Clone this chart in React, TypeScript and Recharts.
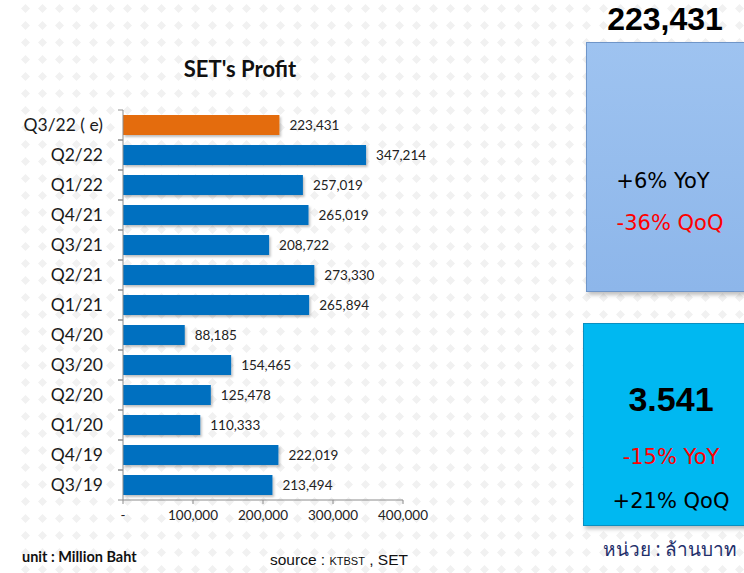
import React from 'react';
import { BarChart, Bar, XAxis, YAxis, Cell, LabelList } from 'recharts';

// quarters, top to bottom as in the chart
const quarters = ['Q3/22 ( e)', 'Q2/22', 'Q1/22', 'Q4/21', 'Q3/21', 'Q2/21', 'Q1/21', 'Q4/20', 'Q3/20', 'Q2/20', 'Q1/20', 'Q4/19', 'Q3/19'];
const profit = [223431, 347214, 257019, 265019, 208722, 273330, 265894, 88185, 154465, 125478, 110333, 222019, 213494];
const estimated = [true, false, false, false, false, false, false, false, false, false, false, false, false];
const xTicks = [0, 100000, 200000, 300000, 400000];

const data = quarters.map((q, i) => ({ quarter: q, profit: profit[i], estimated: estimated[i] }));

const W = 744;
const H = 573;
const MARGIN = { top: 110, right: 341, bottom: 43, left: 0 };
const X_AXIS_H = 30;
const Y_AXIS_W = 123;
const BAND = (H - MARGIN.top - MARGIN.bottom - X_AXIS_H) / quarters.length;

const fmt = (v: number) => (v === 0 ? '-' : v.toLocaleString('en-US'));

const CategoryTick = (props: any) => {
  const { x, y, payload } = props;
  const axisX = x + 20;
  return (
    <g>
      <line x1={axisX - 5} x2={axisX} y1={y - BAND / 2} y2={y - BAND / 2} stroke="#8c8c8c" />
      <line x1={axisX - 5} x2={axisX} y1={y + BAND / 2} y2={y + BAND / 2} stroke="#8c8c8c" />
      <text x={x} y={y} dy={6} textAnchor="end" fontSize={17.5} fill="#1a1a1a" fontFamily="Lato, sans-serif">
        {payload.value}
      </text>
    </g>
  );
};

const Diamonds = () => (
  <svg width={W} height={H} style={{ position: 'absolute', left: 0, top: 0 }}>
    <defs>
      <pattern id="dia" width={17} height={17} patternUnits="userSpaceOnUse">
        <path d="M8.5 4 L13 8.5 L8.5 13 L4 8.5 Z" fill="#f1f1f1" />
      </pattern>
    </defs>
    <rect x={16} y={0} width={W - 16} height={H} fill="url(#dia)" />
  </svg>
);

export default function App() {
  return (
    <div style={{ position: 'absolute', left: 0, top: 0, width: W, height: H, background: '#fff', overflow: 'hidden' }}>
      <Diamonds />
      <div style={{ position: 'absolute', left: 0, top: 0 }}>
        <BarChart width={W} height={H} data={data} layout="vertical" margin={MARGIN} barSize={20}>
          <defs>
            <filter id="shadow" x="-5%" y="-20%" width="110%" height="160%">
              <feDropShadow dx={1.5} dy={2} stdDeviation={1} floodColor="#000" floodOpacity={0.25} />
            </filter>
          </defs>
          <text x={240} y={77} textAnchor="middle" fontSize={22} fontWeight="bold" fill="#111" fontFamily="Lato, sans-serif">
            SET's Profit
          </text>
          <XAxis
            type="number"
            domain={[0, 400000]}
            ticks={xTicks}
            tickFormatter={fmt}
            height={X_AXIS_H}
            stroke="#8c8c8c"
            tickSize={4}
            tickMargin={6}
            tick={{ fill: '#222', fontSize: 13.5, fontFamily: 'Lato, sans-serif' }}
          />
          <YAxis
            type="category"
            dataKey="quarter"
            width={Y_AXIS_W}
            stroke="#8c8c8c"
            tickLine={false}
            tickSize={0}
            tickMargin={20}
            interval={0}
            tick={<CategoryTick />}
          />
          <Bar dataKey="profit" isAnimationActive={false} filter="url(#shadow)">
            {data.map((d, i) => (
              <Cell key={i} fill={d.estimated ? '#e46c0a' : '#0070c0'} />
            ))}
            <LabelList
              dataKey="profit"
              position="right"
              offset={10}
              formatter={(v: any) => fmt(Number(v))}
              style={{ fill: '#222', fontSize: 13.5, fontFamily: 'Lato, sans-serif' }}
            />
          </Bar>
        </BarChart>
      </div>

      <div style={{ position: 'absolute', left: 22, top: 548, fontFamily: 'Lato, sans-serif', fontWeight: 'bold', fontSize: 14.5, color: '#111' }}>
        unit : Million Baht
      </div>
      <div style={{ position: 'absolute', left: 270, top: 551, fontFamily: '"Liberation Sans", Arial, sans-serif', fontSize: 15.5, color: '#111' }}>
        source : <span style={{ fontSize: 11 }}>KTBST</span> , SET
      </div>

      {/* right summary boxes */}
      <div style={{ position: 'absolute', left: 586, top: 1, width: 158, textAlign: 'center', fontFamily: '"Liberation Sans", Arial, sans-serif', fontWeight: 'bold', fontSize: 32, color: '#000' }}>
        223,431
      </div>
      <div
        style={{
          position: 'absolute', left: 586, top: 42, width: 170, height: 250, boxSizing: 'border-box',
          background: 'linear-gradient(#9ec3f0, #8db6ea)', border: '1px solid #6f95c8',
          boxShadow: '2px 3px 4px rgba(0,0,0,0.25)', fontFamily: '"DejaVu Sans", Verdana, sans-serif', fontSize: 21,
        }}
      >
        <div style={{ position: 'absolute', left: 0, width: 152, top: 126, textAlign: 'center', color: '#000' }}>+6% YoY</div>
        <div style={{ position: 'absolute', left: 0, width: 166, top: 168, textAlign: 'center', color: '#ff0000' }}>-36% QoQ</div>
      </div>

      <div
        style={{
          position: 'absolute', left: 583, top: 323, width: 170, height: 203, boxSizing: 'border-box',
          background: '#00b8f1', border: '1px solid #0a8fc0',
          boxShadow: '2px 3px 4px rgba(0,0,0,0.25)', fontFamily: '"DejaVu Sans", Verdana, sans-serif', fontSize: 21,
        }}
      >
        <div style={{ position: 'absolute', left: 0, width: 174, top: 56, textAlign: 'center', color: '#000', fontFamily: '"Liberation Sans", Arial, sans-serif', fontWeight: 'bold', fontSize: 34 }}>3.541</div>
        <div style={{ position: 'absolute', left: 0, width: 174, top: 121, textAlign: 'center', color: '#ff0000' }}>-15% YoY</div>
        <div style={{ position: 'absolute', left: 0, width: 174, top: 165, textAlign: 'center', color: '#000' }}>+21% QoQ</div>
      </div>
      <div style={{ position: 'absolute', left: 583, top: 534, width: 174, textAlign: 'center', fontFamily: '"Noto Sans", "DejaVu Sans", sans-serif', fontSize: 19, color: '#1f2f6b' }}>
        หน่วย : ล้านบาท
      </div>
    </div>
  );
}
